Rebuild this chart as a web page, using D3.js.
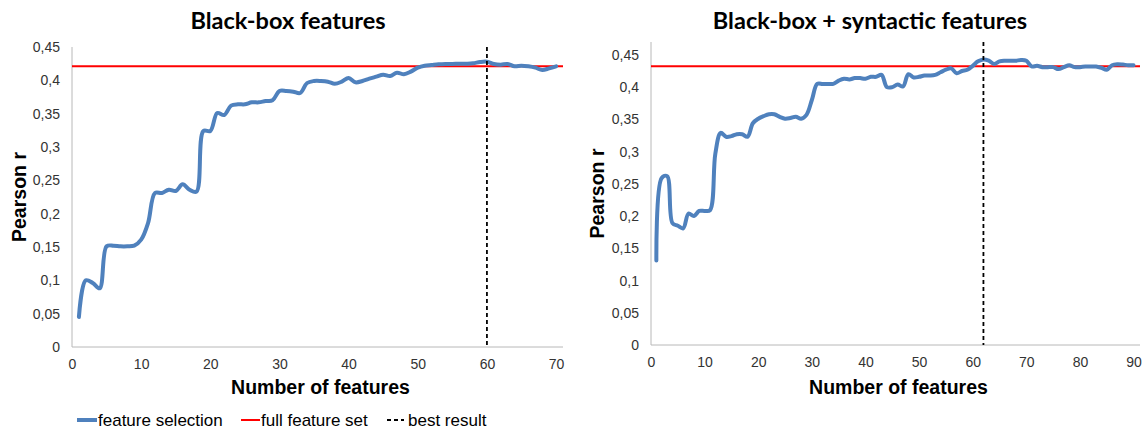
<!DOCTYPE html>
<html>
<head>
<meta charset="utf-8">
<script src="https://cdn.jsdelivr.net/npm/d3@7"></script>
<style>
  body { margin: 0; background: #fff; }
  svg { display: block; }
</style>
</head>
<body>
<svg id="chart" width="1146" height="432"></svg>
<script>
// left panel: black-box features (1..70)
const blackBox = [
  0.045, 0.100, 0.096, 0.088, 0.151, 0.152, 0.151, 0.151, 0.152, 0.161,
  0.186, 0.231, 0.231, 0.236, 0.234, 0.244, 0.236, 0.233, 0.324, 0.324,
  0.351, 0.348, 0.362, 0.364, 0.364, 0.367, 0.367, 0.369, 0.370, 0.384,
  0.384, 0.383, 0.381, 0.396, 0.399, 0.399, 0.398, 0.395, 0.398, 0.4035,
  0.397, 0.399, 0.4025, 0.4055, 0.4085, 0.4065, 0.4115, 0.409, 0.413, 0.419,
  0.422, 0.423, 0.424, 0.4245, 0.4245, 0.425, 0.425, 0.4255, 0.4275, 0.428,
  0.4245, 0.4235, 0.4245, 0.421, 0.422, 0.421, 0.419, 0.4155, 0.418, 0.421
];
// right panel: black-box + syntactic features (1..90)
const blackBoxSyntactic = [
  0.131, 0.259, 0.262, 0.189, 0.185, 0.181, 0.204, 0.200, 0.208, 0.208,
  0.209, 0.297, 0.329, 0.323, 0.324, 0.327, 0.327, 0.323, 0.344, 0.351,
  0.355, 0.358, 0.358, 0.354, 0.351, 0.352, 0.354, 0.351, 0.357, 0.380,
  0.405, 0.405, 0.405, 0.405, 0.410, 0.413, 0.412, 0.414, 0.414, 0.413,
  0.416, 0.416, 0.419, 0.400, 0.400, 0.404, 0.401, 0.420, 0.415, 0.416,
  0.418, 0.418, 0.419, 0.423, 0.427, 0.429, 0.4215, 0.425, 0.427, 0.433,
  0.440, 0.443, 0.441, 0.436, 0.440, 0.441, 0.441, 0.441, 0.442, 0.441,
  0.432, 0.433, 0.431, 0.431, 0.431, 0.428, 0.431, 0.434, 0.431, 0.431,
  0.432, 0.432, 0.432, 0.430, 0.427, 0.434, 0.4355, 0.435, 0.434, 0.434
];
const fullSet = [0.421, 0.4325];
const bestN = [60, 62];
const titles = ["Black-box features", "Black-box + syntactic features"];
const xTicks = [[0, 10, 20, 30, 40, 50, 60, 70], [0, 10, 20, 30, 40, 50, 60, 70, 80, 90]];
const yTicks = [0, 0.05, 0.1, 0.15, 0.2, 0.25, 0.3, 0.35, 0.4, 0.45];
const legendLabels = ["feature selection", "full feature set", "best result"];

const svg = d3.select("#chart");
const fmt = d => d3.format(".2~f")(d).replace(".", ",");
const axisFont = "Liberation Sans, Arial, sans-serif";

const panels = [
  { values: blackBox, left: 72, right: 563, top: 47, bottom: 347, xMax: 71, yMax: 0.45, titleX: 288, ylabX: 20 },
  { values: blackBoxSyntactic, left: 651, right: 1140, top: 42, bottom: 345, xMax: 91.2, yMax: 0.47, titleX: 870, ylabX: 598 }
];

panels.forEach((p, i) => {
  const data = p.values.map((v, k) => ({ n: k + 1, r: v }));
  const x = d3.scaleLinear().domain([0, p.xMax]).range([p.left, p.right]);
  const y = d3.scaleLinear().domain([0, p.yMax]).range([p.bottom, p.top]);
  const g = svg.append("g");

  // axes
  const gx = g.append("g")
    .attr("transform", `translate(0,${p.bottom})`)
    .call(d3.axisBottom(x).tickValues(xTicks[i]).tickSize(0).tickPadding(12))
    .call(s => s.select(".domain").attr("stroke", "#b8b8b8").attr("d", `M${p.left},0H${p.right}`));
  gx.selectAll("text").attr("font-size", "14px").attr("font-family", axisFont).attr("fill", "#333");

  const gy = g.append("g")
    .attr("transform", `translate(${p.left},0)`)
    .call(d3.axisLeft(y).tickValues(yTicks).tickFormat(fmt).tickSize(0).tickPadding(12))
    .call(s => s.select(".domain").attr("stroke", "#b8b8b8").attr("d", `M0,${p.top}V${p.bottom}`));
  gy.selectAll("text").attr("font-size", "14px").attr("font-family", axisFont).attr("fill", "#333");

  // full feature set
  g.append("line")
    .attr("x1", p.left).attr("x2", p.right)
    .attr("y1", y(fullSet[i])).attr("y2", y(fullSet[i]))
    .attr("stroke", "#ff0000").attr("stroke-width", 2);

  // feature selection curve
  const line = d3.line()
    .x(d => x(d.n))
    .y(d => y(d.r))
    .curve(d3.curveCatmullRom.alpha(0.5));
  g.append("path")
    .datum(data)
    .attr("fill", "none")
    .attr("stroke", "#4f81bd")
    .attr("stroke-width", 4)
    .attr("stroke-linejoin", "round")
    .attr("stroke-linecap", "round")
    .attr("d", line);

  // best result
  g.append("line")
    .attr("x1", x(bestN[i])).attr("x2", x(bestN[i]))
    .attr("y1", p.top).attr("y2", p.bottom)
    .attr("stroke", "#000").attr("stroke-width", 1.8)
    .attr("stroke-dasharray", "4,3");

  g.append("text")
    .attr("x", p.titleX).attr("y", 29)
    .attr("text-anchor", "middle")
    .attr("font-family", "Lato, sans-serif")
    .attr("font-weight", "bold")
    .attr("font-size", "23.5px")
    .text(titles[i]);

  g.append("text")
    .attr("x", (p.left + p.right) / 2 + 3).attr("y", 394)
    .attr("text-anchor", "middle")
    .attr("font-family", axisFont)
    .attr("font-weight", "bold")
    .attr("font-size", "19.5px")
    .text("Number of features");

  g.append("text")
    .attr("transform", `translate(${p.ylabX + 6},${(p.top + p.bottom) / 2}) rotate(-90)`)
    .attr("text-anchor", "middle")
    .attr("font-family", axisFont)
    .attr("font-weight", "bold")
    .attr("font-size", "19.5px")
    .text("Pearson r");
});

// legend
const legend = svg.append("g").attr("font-family", axisFont).attr("font-size", "17px");
const legendItems = [
  { x: 77, stroke: "#4f81bd", w: 4, dash: null, len: 20 },
  { x: 241, stroke: "#ff0000", w: 2, dash: null, len: 19 },
  { x: 387, stroke: "#000", w: 1.8, dash: "4,3", len: 17 }
];
legendItems.forEach((it, i) => {
  legend.append("line")
    .attr("x1", it.x).attr("x2", it.x + it.len)
    .attr("y1", 420).attr("y2", 420)
    .attr("stroke", it.stroke).attr("stroke-width", it.w)
    .attr("stroke-dasharray", it.dash);
  legend.append("text")
    .attr("x", it.x + it.len + (i === 2 ? 4 : 1)).attr("y", 426)
    .attr("fill", "#000")
    .text(legendLabels[i]);
});
</script>
</body>
</html>
